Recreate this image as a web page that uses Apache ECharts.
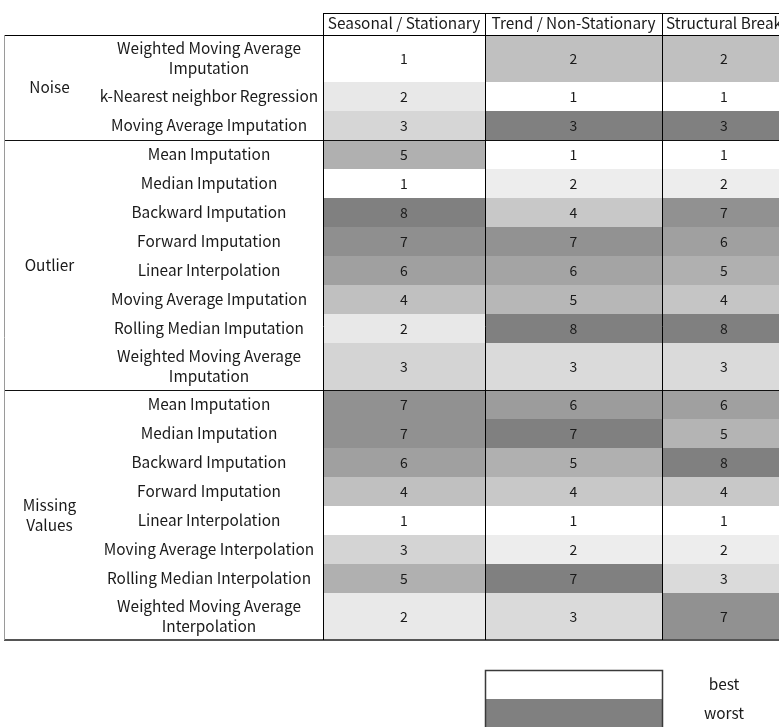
<!DOCTYPE html>
<html><head><meta charset="utf-8">
<script src="https://cdn.jsdelivr.net/npm/echarts@6/dist/echarts.min.js"></script>
<style>html,body{margin:0;padding:0;background:#fff}#c{width:779px;height:727px}</style>
</head><body><div id="c"></div>
<script>
// ---------- data ----------
const columns = ['Seasonal / Stationary', 'Trend / Non-Stationary', 'Structural Break'];
const groups = ['Noise', 'Outlier', 'Missing\nValues'];
const groupSizes = [3, 8, 8];
const methods = [
  'Weighted Moving Average\nImputation', 'k-Nearest neighbor Regression', 'Moving Average Imputation',
  'Mean Imputation', 'Median Imputation', 'Backward Imputation', 'Forward Imputation',
  'Linear Interpolation', 'Moving Average Imputation', 'Rolling Median Imputation',
  'Weighted Moving Average\nImputation',
  'Mean Imputation', 'Median Imputation', 'Backward Imputation', 'Forward Imputation',
  'Linear Interpolation', 'Moving Average Interpolation', 'Rolling Median Interpolation',
  'Weighted Moving Average\nInterpolation'
];
const rankSeasonal   = [1, 2, 3,  5, 1, 8, 7, 6, 4, 2, 3,  7, 7, 6, 4, 1, 3, 5, 2];
const rankTrend      = [2, 1, 3,  1, 2, 4, 7, 6, 5, 8, 3,  6, 7, 5, 4, 1, 2, 7, 3];
const rankStructural = [2, 1, 3,  1, 2, 7, 6, 5, 4, 8, 3,  6, 5, 8, 4, 1, 2, 3, 7];
// shading level (0 = best/white, 1 = worst/dark grey)
const shadeSeasonal   = [0, 0.18, 0.32,  0.62, 0, 1, 0.88, 0.75, 0.5, 0.18, 0.34,  0.87, 0.87, 0.75, 0.5, 0, 0.34, 0.62, 0.17];
const shadeTrend      = [0.5, 0, 1,  0, 0.14, 0.43, 0.86, 0.72, 0.57, 1, 0.29,  0.78, 1, 0.62, 0.43, 0, 0.14, 1, 0.29];
const shadeStructural = [0.5, 0, 1,  0, 0.14, 0.87, 0.75, 0.62, 0.46, 1, 0.29,  0.75, 0.59, 1, 0.43, 0, 0.14, 0.29, 0.87];
const legendLabels = ['best', 'worst'];
const legendShades = [0, 1];

// ---------- layout ----------
const layout = { colW: [91, 228, 162, 177, 124], headerH: 22, rowH: 29, rowH2: 47, legendGap: 30, legendRowH: 29 };
const FONT = '"Noto Sans CJK SC", "Noto Sans", sans-serif';
const TXT = '#1a1a1a';
const LABEL_SIZE = 15.4, VALUE_SIZE = 14;

const colEdges = [0];
layout.colW.forEach(w => colEdges.push(colEdges[colEdges.length - 1] + w));
const rowTops = [], rowHs = [];
let acc = 0;
methods.forEach(m => { rowTops.push(acc); const h = m.includes('\n') ? layout.rowH2 : layout.rowH; rowHs.push(h); acc += h; });
const dataH = acc;
const groupStart = [];
{ let s = 0; groupSizes.forEach(n => { groupStart.push(s); s += n; }); }
const legendTop = dataH + layout.legendGap;
const yMin = -layout.headerH, yMax = legendTop + legendShades.length * layout.legendRowH;
const xMax = colEdges[colEdges.length - 1];

const ranks = [rankSeasonal, rankTrend, rankStructural];
const shades = [shadeSeasonal, shadeTrend, shadeStructural];
const cellData = [];
ranks.forEach((arr, c) => arr.forEach((v, r) => cellData.push([c, r, v, shades[c][r]])));

function rectItem(api, x0, y0, x1, y1, fill) {
  const p0 = api.coord([x0, y0]), p1 = api.coord([x1, y1]);
  return { type: 'rect', shape: { x: p0[0], y: p0[1], width: p1[0] - p0[0], height: p1[1] - p0[1] }, style: { fill: fill } };
}
function textItem(api, x, y, text, size) {
  const p = api.coord([x, y]);
  return { type: 'text', x: p[0], y: p[1], style: { text: text, fill: TXT, fontSize: size, fontFamily: FONT, align: 'center', verticalAlign: 'middle', lineHeight: 20 } };
}

const series = [
  { // cells
    type: 'custom', clip: false, data: cellData,
    renderItem: (params, api) => {
      const c = api.value(0), r = api.value(1);
      const x0 = colEdges[c + 2], x1 = colEdges[c + 3], y0 = rowTops[r], y1 = y0 + rowHs[r];
      return { type: 'group', children: [
        rectItem(api, x0, y0, x1, y1, api.visual('color')),
        textItem(api, (x0 + x1) / 2, (y0 + y1) / 2, String(api.value(2)), VALUE_SIZE)
      ] };
    }
  },
  { // legend
    type: 'custom', clip: false, data: legendLabels.map((l, i) => [i, 0, 0, legendShades[i]]),
    renderItem: (params, api) => {
      const i = params.dataIndex;
      const y0 = legendTop + i * layout.legendRowH, y1 = y0 + layout.legendRowH;
      const children = [
        rectItem(api, colEdges[3], y0, colEdges[4], y1, api.visual('color')),
        textItem(api, (colEdges[4] + colEdges[5]) / 2, (y0 + y1) / 2, legendLabels[i], LABEL_SIZE)
      ];
      if (i === legendLabels.length - 1) {
        const a = api.coord([colEdges[3], legendTop]), b = api.coord([colEdges[4], y1]);
        children.push({ type: 'rect', shape: { x: a[0] + 0.5, y: a[1] + 0.5, width: b[0] - a[0], height: b[1] - a[1] + 4 }, style: { fill: null, stroke: '#3a3a3a', lineWidth: 1.5 } });
      }
      return { type: 'group', children: children };
    }
  },
  { // method labels
    type: 'custom', clip: false, data: methods.map((m, r) => [r]),
    renderItem: (params, api) => {
      const r = params.dataIndex;
      return textItem(api, (colEdges[1] + colEdges[2]) / 2, rowTops[r] + rowHs[r] / 2, methods[r], LABEL_SIZE);
    }
  },
  { // group labels
    type: 'custom', clip: false, data: groups.map((g, i) => [i]),
    renderItem: (params, api) => {
      const g = params.dataIndex;
      const r0 = groupStart[g], r1 = r0 + groupSizes[g] - 1;
      const y0 = rowTops[r0], y1 = rowTops[r1] + rowHs[r1];
      return textItem(api, (colEdges[0] + colEdges[1]) / 2, (y0 + y1) / 2, groups[g], LABEL_SIZE);
    }
  },
  { // headers
    type: 'custom', clip: false, data: columns.map((c, i) => [i]),
    renderItem: (params, api) => {
      const c = params.dataIndex;
      return textItem(api, (colEdges[c + 2] + colEdges[c + 3]) / 2, -layout.headerH / 2 - 0.5, columns[c], LABEL_SIZE);
    }
  },
  { // rules
    type: 'custom', clip: false, data: [[0]],
    renderItem: (params, api) => {
      const L = [];
      function h(y, x0, x1, color, w) {
        const a = api.coord([x0, y]), b = api.coord([x1, y]);
        const yy = Math.round(a[1]) + (w % 2 ? 0.5 : 0);
        L.push({ type: 'line', shape: { x1: a[0], y1: yy, x2: b[0], y2: yy }, style: { stroke: color, lineWidth: w } });
      }
      function v(x, y0, y1, color, w) {
        const a = api.coord([x, y0]), b = api.coord([x, y1]);
        const xx = Math.round(a[0]) + 0.5;
        L.push({ type: 'line', shape: { x1: xx, y1: a[1], x2: xx, y2: b[1] }, style: { stroke: color, lineWidth: w } });
      }
      h(-layout.headerH, colEdges[2], xMax, '#000', 1);
      h(0, colEdges[0], xMax, '#000', 1);
      groupStart.slice(1).forEach(s => h(rowTops[s], colEdges[0], xMax, '#111', 1));
      h(dataH, colEdges[0], xMax, '#555', 2);
      v(colEdges[0], 0, dataH, '#9a9a9a', 1);
      [2, 3, 4].forEach(k => v(colEdges[k], -layout.headerH, dataH, '#000', 1));
      return { type: 'group', children: L };
    }
  }
];

const chart = echarts.init(document.getElementById('c'), null, { renderer: 'canvas' });
chart.setOption({
  animation: false,
  backgroundColor: '#fff',
  grid: { left: 4, top: 13, width: xMax, height: yMax - yMin, containLabel: false, outerBoundsMode: 'none' },
  xAxis: { type: 'value', min: 0, max: xMax, show: false },
  yAxis: { type: 'value', min: yMin, max: yMax, inverse: true, show: false },
  visualMap: { show: false, type: 'continuous', seriesIndex: [0, 1], dimension: 3, min: 0, max: 1, inRange: { color: ['#ffffff', '#808080'] } },
  series: series
});
</script></body></html>
